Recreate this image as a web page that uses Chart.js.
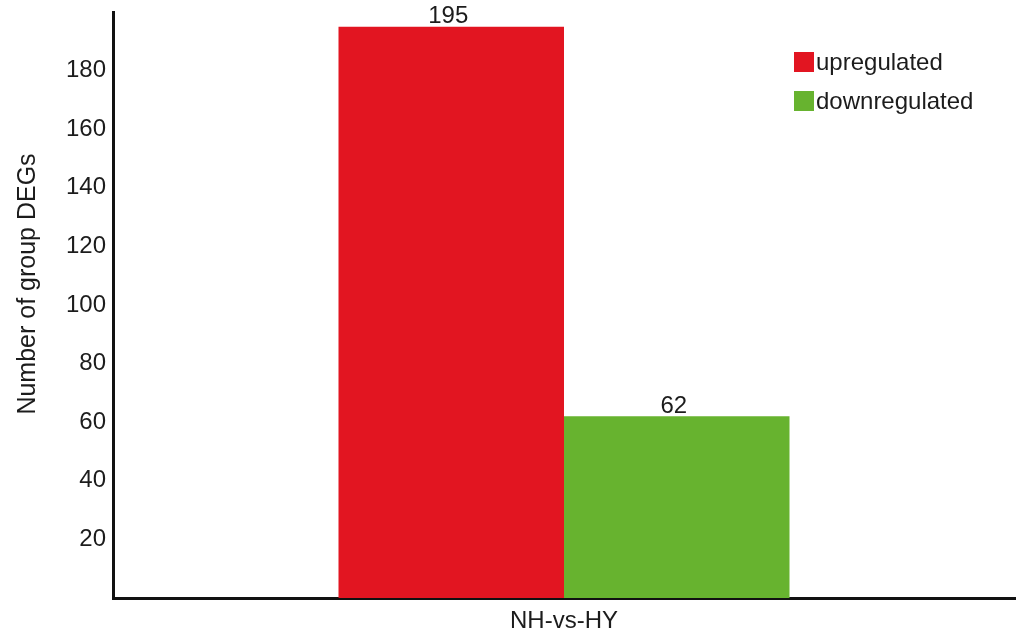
<!DOCTYPE html>
<html>
<head>
<meta charset="utf-8">
<script src="https://cdn.jsdelivr.net/npm/chart.js@4/dist/chart.umd.min.js"></script>
<style>
  html, body { margin: 0; padding: 0; background: #fff; }
  #wrap { width: 1033px; height: 641px; }
</style>
</head>
<body>
<div id="wrap"><canvas id="degChart"></canvas></div>
<script>
// --- DATOS ---
const categories = ["NH-vs-HY"];
const upregulated = [195];
const downregulated = [62];
const yTicks = [20, 40, 60, 80, 100, 120, 140, 160, 180];
const yTitle = "Number of group DEGs";

const FONT = "'Liberation Sans', Arial, sans-serif";
const TEXT = "#1c1c1c";

// etiquetas de valor encima de cada barra
const valueLabels = {
  id: "valueLabels",
  afterDatasetsDraw(chart) {
    const ctx = chart.ctx;
    ctx.save();
    ctx.font = "24px " + FONT;
    ctx.fillStyle = TEXT;
    ctx.textAlign = "center";
    ctx.textBaseline = "bottom";
    chart.data.datasets.forEach((ds, i) => {
      chart.getDatasetMeta(i).data.forEach((bar, j) => {
        ctx.fillText(String(ds.data[j]), bar.x - 3, bar.y + 2);
      });
    });
    ctx.restore();
  },
};

// leyenda dentro del área (arriba a la derecha)
const insideLegend = {
  id: "insideLegend",
  afterDraw(chart) {
    const ctx = chart.ctx;
    ctx.save();
    ctx.font = "24px " + FONT;
    ctx.textBaseline = "middle";
    chart.data.datasets.forEach((ds, i) => {
      const y = 62 + i * 39;
      ctx.fillStyle = ds.backgroundColor;
      ctx.fillRect(794, y - 10, 20, 20);
      ctx.fillStyle = TEXT;
      ctx.fillText(ds.label, 816, y + 1);
    });
    ctx.restore();
  },
};

// título del eje Y (algo desplazado hacia arriba como en el original)
const yAxisTitle = {
  id: "yAxisTitle",
  afterDraw(chart) {
    const ctx = chart.ctx;
    ctx.save();
    ctx.translate(28, 284);
    ctx.rotate(-Math.PI / 2);
    ctx.font = "25px " + FONT;
    ctx.fillStyle = TEXT;
    ctx.textAlign = "center";
    ctx.textBaseline = "middle";
    ctx.fillText(yTitle, 0, 0);
    ctx.restore();
  },
};

new Chart(document.getElementById("degChart"), {
  type: "bar",
  data: {
    labels: categories,
    datasets: [
      {
        label: "upregulated",
        data: upregulated,
        backgroundColor: "#e21521",
        categoryPercentage: 0.5,
        barPercentage: 1.0,
      },
      {
        label: "downregulated",
        data: downregulated,
        backgroundColor: "#67b32f",
        categoryPercentage: 0.5,
        barPercentage: 1.0,
      },
    ],
  },
  options: {
    responsive: true,
    maintainAspectRatio: false,
    animation: false,
    layout: { padding: { top: 12, right: 18, left: 0, bottom: 0 } },
    plugins: {
      legend: { display: false },
      tooltip: { enabled: false },
    },
    scales: {
      x: {
        grid: { display: true, color: "rgba(0,0,0,0)", drawTicks: false },
        border: { display: true, color: "#111", width: 3 },
        ticks: { color: TEXT, font: { family: FONT, size: 24 }, padding: 9 },
        afterFit(scale) {
          scale.height = 43;
          scale.paddingLeft = 0;
          scale.paddingRight = 0;
        },
      },
      y: {
        min: 0,
        max: 200,
        grid: { display: true, color: "rgba(0,0,0,0)", drawTicks: false },
        border: { display: true, color: "#111", width: 3 },
        ticks: { color: TEXT, font: { family: FONT, size: 24 }, padding: 7 },
        afterBuildTicks(scale) {
          scale.ticks = yTicks.map((v) => ({ value: v }));
        },
        afterFit(scale) {
          scale.width = 113;
          scale.paddingTop = 0;
          scale.paddingBottom = 0;
        },
      },
    },
  },
  plugins: [valueLabels, insideLegend, yAxisTitle],
});
</script>
</body>
</html>
